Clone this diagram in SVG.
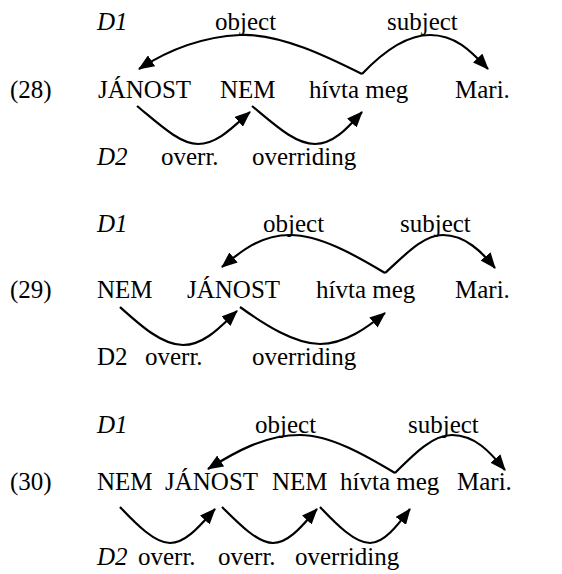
<svg xmlns="http://www.w3.org/2000/svg" width="562" height="574" viewBox="0 0 562 574">
<style>
text{font-family:'Liberation Serif','DejaVu Serif',serif;font-size:25px;fill:#000}
.i{font-style:italic}
.c{fill:none;stroke:#000;stroke-width:2.2}
</style>
<defs>
<marker id="ah" markerUnits="userSpaceOnUse" markerWidth="16" markerHeight="13" refX="15" refY="6.5" orient="auto"><path d="M0,0 L16,6.5 L0,13 z" fill="#000"/></marker>
</defs>
<g id="ex28">
<text x="10" y="98">(28)</text>
<text class="i" x="97" y="30">D1</text>
<text x="215" y="30">object</text>
<text x="387" y="30">subject</text>
<text x="98" y="98">JÁNOST</text>
<text x="220" y="98">NEM</text>
<text x="309" y="98">hívta meg</text>
<text x="455" y="98">Mari.</text>
<text class="i" x="97" y="165">D2</text>
<text x="161" y="165">overr.</text>
<text x="252" y="165">overriding</text>
</g>
<g id="ex29">
<text x="10" y="298">(29)</text>
<text class="i" x="97" y="232">D1</text>
<text x="263" y="232">object</text>
<text x="400" y="232">subject</text>
<text x="97" y="298">NEM</text>
<text x="187" y="298">JÁNOST</text>
<text x="316" y="298">hívta meg</text>
<text x="455" y="298">Mari.</text>
<text x="97" y="365">D2</text>
<text x="145" y="365">overr.</text>
<text x="252" y="365">overriding</text>
</g>
<g id="ex30">
<text x="10" y="490">(30)</text>
<text class="i" x="97" y="433">D1</text>
<text x="255" y="433">object</text>
<text x="408" y="433">subject</text>
<text x="97" y="490">NEM</text>
<text x="165" y="490">JÁNOST</text>
<text x="272" y="490">NEM</text>
<text x="340" y="490">hívta meg</text>
<text x="457" y="490">Mari.</text>
<text class="i" x="97" y="565">D2</text>
<text x="138" y="565">overr.</text>
<text x="218" y="565">overr.</text>
<text x="295" y="565">overriding</text>
</g>
<g id="connectors">
<path class="c" marker-end="url(#ah)" d="M362,74 C330,58 280,33 240,35 C200,37 165,52 139,69"/>
<path class="c" marker-end="url(#ah)" d="M362,74 C380,55 405,35 430,35 C455,35 470,50 488,69"/>
<path class="c" marker-end="url(#ah)" d="M137,106 C160,125 180,144 198,144 C218,144 235,125 250,112"/>
<path class="c" marker-end="url(#ah)" d="M252,106 C275,125 295,144 315,144 C335,144 350,125 362,112"/>

<path class="c" marker-end="url(#ah)" d="M385,273 C355,255 320,235 290,235 C260,235 240,252 222,267"/>
<path class="c" marker-end="url(#ah)" d="M385,273 C405,255 423,235 443,235 C465,235 482,252 495,268"/>
<path class="c" marker-end="url(#ah)" d="M120,307 C140,325 162,345 183,345 C205,345 222,325 237,311"/>
<path class="c" marker-end="url(#ah)" d="M240,307 C265,325 295,344 320,344 C345,344 368,327 385,313"/>

<path class="c" marker-end="url(#ah)" d="M395,473 C365,455 330,435 300,435 C265,435 235,452 208,469"/>
<path class="c" marker-end="url(#ah)" d="M395,473 C413,455 432,435 452,435 C475,435 490,452 505,470"/>
<path class="c" marker-end="url(#ah)" d="M120,507 C137,525 155,543 170,543 C187,543 203,522 215,509"/>
<path class="c" marker-end="url(#ah)" d="M222,507 C240,525 258,543 273,543 C290,543 305,522 317,509"/>
<path class="c" marker-end="url(#ah)" d="M320,507 C337,525 355,543 370,543 C385,543 400,522 410,509"/>
</g>
</svg>
